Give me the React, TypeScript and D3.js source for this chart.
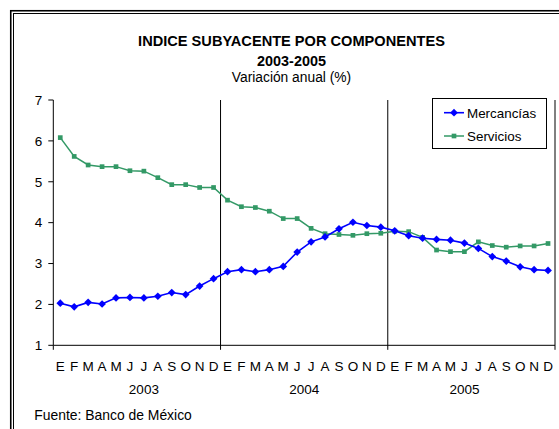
import React from "react";
import * as d3 from "d3";

// month initials (Spanish), repeated for each year
const months = ["E", "F", "M", "A", "M", "J", "J", "A", "S", "O", "N", "D"];
const years = ["2003", "2004", "2005"];

// annual % change, Jan 2003 .. Dec 2005
const mercancias = [
  2.03, 1.94, 2.05, 2.01, 2.16, 2.17, 2.16, 2.2, 2.29, 2.24, 2.45, 2.63,
  2.8, 2.85, 2.8, 2.85, 2.93, 3.28, 3.53, 3.65, 3.85, 4.01, 3.93, 3.89,
  3.8, 3.68, 3.62, 3.59, 3.57, 3.5, 3.37, 3.17, 3.06, 2.92, 2.85, 2.83,
];
const servicios = [
  6.08, 5.62, 5.41, 5.37, 5.37, 5.27, 5.26, 5.1, 4.93, 4.93, 4.86, 4.86,
  4.55, 4.39, 4.37, 4.28, 4.1, 4.1, 3.86, 3.73, 3.71, 3.69, 3.73, 3.74,
  3.79, 3.78, 3.64, 3.33, 3.29, 3.29, 3.53, 3.44, 3.4, 3.43, 3.43, 3.49,
];
const yTicks = [1, 2, 3, 4, 5, 6, 7];

const W = 559;
const H = 429;
const FONT = "'Liberation Sans', Arial, sans-serif";
const BLUE = "#0000ff";
const GREEN = "#339966";

export default function App() {
  const left = 53.3;
  const right = 555;
  const top = 100;
  const bottom = 345.3;

  const idx = d3.range(years.length * months.length);
  const x = d3.scaleBand<number>().domain(idx).range([left, right]);
  const y = d3.scaleLinear().domain([1, 7]).range([bottom, top]);
  const cx = (i: number) => (x(i) as number) + x.bandwidth() / 2;

  const line = d3
    .line<number>()
    .x((_, i) => cx(i))
    .y((d) => y(d));

  // rotated square, like Excel's diamond marker
  const diamond = d3.symbol().type(d3.symbolDiamond2 || d3.symbolDiamond).size(38)();
  const square = d3.symbol().type(d3.symbolSquare).size(22)();

  // group boundaries (start of each year and end)
  const bounds = d3.range(years.length + 1).map((k) => left + k * months.length * x.bandwidth());
  // Excel-like placement of the year labels
  const yearShift = [0.5, 0, -0.5];

  return (
    <svg
      width={W}
      height={H}
      style={{ position: "absolute", left: 0, top: 0, background: "#fff" }}
      fontFamily={FONT}
    >
      {/* double frame */}
      <rect x={10.75} y={10.75} width={W} height={H} fill="none" stroke="#000" strokeWidth={1.6} />
      <rect x={13.5} y={13.5} width={W} height={H} fill="none" stroke="#000" strokeWidth={1} />

      {/* titles */}
      <text x={291.5} y={46} textAnchor="middle" fontWeight="bold" fontSize={14.6} fill="#000">
        INDICE SUBYACENTE POR COMPONENTES
      </text>
      <text x={291.5} y={65.5} textAnchor="middle" fontWeight="bold" fontSize={14.4} fill="#000">
        2003-2005
      </text>
      <text x={291.5} y={82} textAnchor="middle" fontSize={13.8} fill="#000">
        Variación anual (%)
      </text>

      {/* y axis */}
      <line x1={left} x2={left} y1={top} y2={bottom} stroke="#000" />
      {yTicks.map((t) => (
        <g key={t}>
          <line x1={left - 5} x2={left} y1={y(t)} y2={y(t)} stroke="#000" />
          <text x={left - 11} y={y(t) + 4.8} textAnchor="end" fontSize={13.5} fill="#000">
            {t}
          </text>
        </g>
      ))}

      {/* x axis and year separators */}
      <line x1={left} x2={right} y1={bottom} y2={bottom} stroke="#000" />
      {bounds.map((bx, k) => (
        <line key={k} x1={bx} x2={bx} y1={k === 0 ? bottom : top} y2={bottom + 4.5} stroke="#000" />
      ))}
      {idx.map((i) => (
        <text key={i} x={cx(i)} y={370.7} textAnchor="middle" fontSize={13.5} fill="#000">
          {months[i % months.length]}
        </text>
      ))}
      {years.map((yr, k) => (
        <text
          key={yr}
          x={left + (k * months.length + months.length / 2 + yearShift[k]) * x.bandwidth()}
          y={394}
          textAnchor="middle"
          fontSize={13.5}
          fill="#000"
        >
          {yr}
        </text>
      ))}

      {/* series */}
      <path d={line(servicios) || ""} fill="none" stroke={GREEN} strokeWidth={1.5} />
      {servicios.map((v, i) => (
        <path key={i} d={square || ""} transform={`translate(${cx(i)},${y(v)})`} fill={GREEN} />
      ))}
      <path d={line(mercancias) || ""} fill="none" stroke={BLUE} strokeWidth={1.6} />
      {mercancias.map((v, i) => (
        <path key={i} d={diamond || ""} transform={`translate(${cx(i)},${y(v)})`} fill={BLUE} />
      ))}

      {/* legend */}
      <rect x={432.5} y={98.5} width={114} height={50} fill="#fff" stroke="#000" />
      <line x1={444} x2={464} y1={112.7} y2={112.7} stroke={BLUE} strokeWidth={1.6} />
      <path d={diamond || ""} transform="translate(454,112.7)" fill={BLUE} />
      <text x={467} y={117.5} fontSize={13.4} fill="#000">
        Mercancías
      </text>
      <line x1={444} x2={464} y1={136} y2={136} stroke={GREEN} strokeWidth={1.5} />
      <path d={square || ""} transform="translate(454,136)" fill={GREEN} />
      <text x={467} y={140.8} fontSize={13.4} fill="#000">
        Servicios
      </text>

      <text x={34.3} y={420} fontSize={13.9} fill="#000">
        Fuente: Banco de México
      </text>
    </svg>
  );
}
